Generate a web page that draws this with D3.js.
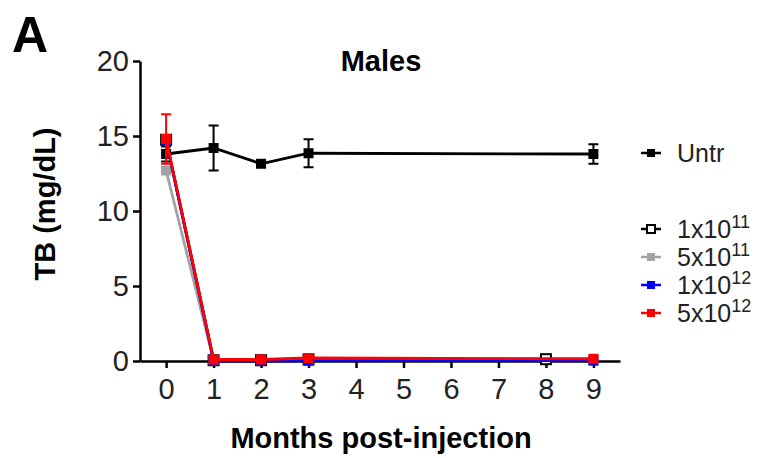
<!DOCTYPE html>
<html>
<head>
<meta charset="utf-8">
<script src="https://cdn.jsdelivr.net/npm/d3@7"></script>
<style>
  body { margin: 0; background: #fff; }
  text { font-family: "Liberation Sans", Arial, sans-serif; }
</style>
</head>
<body>
<svg id="chart" width="775" height="458"></svg>
<script>
// months on the x axis
const months = [0, 1, 2, 3, 4, 5, 6, 7, 8, 9];
const yTicks = [0, 5, 10, 15, 20];

// TB values (mg/dL) per group, with SD
const untrMonths = [0, 1, 2, 3, 9];
const untrValues = [13.8, 14.2, 13.15, 13.85, 13.8];
const untrErr = [0.5, 1.5, 0.2, 0.93, 0.65];

const d1e11Months = [0, 1, 2, 3, 8];
const d1e11Values = [14.75, 0.05, 0.05, 0.1, 0.12];

const d5e11Months = [0, 1, 2, 3, 9];
const d5e11Values = [12.7, 0.05, 0.05, 0.08, 0.08];

const d1e12Months = [0, 1, 2, 3, 9];
const d1e12Values = [14.7, 0.0, 0.0, 0.02, 0.02];

const d5e12Months = [0, 1, 2, 3, 9];
const d5e12Values = [14.8, 0.1, 0.1, 0.2, 0.15];
const d5e12Err = [1.65, 0, 0, 0, 0];

const svg = d3.select('#chart');

const x = d3.scaleLinear().domain([-0.55, 9.56]).range([140, 620]);
const y = d3.scaleLinear().domain([0, 20]).range([361, 61]);

const toPoints = (ms, vs, es) => ms.map((m, i) => ({ m, v: vs[i], e: es ? es[i] : 0 }));

const series = [
  { name: 'Untr', color: '#000', fill: '#000', pts: toPoints(untrMonths, untrValues, untrErr) },
  { name: '1x10', sup: '11', color: '#000', fill: '#fff', pts: toPoints(d1e11Months, d1e11Values) },
  { name: '5x10', sup: '11', color: '#a3a3a3', fill: '#a3a3a3', pts: toPoints(d5e11Months, d5e11Values) },
  { name: '1x10', sup: '12', color: '#0000ff', fill: '#0000ff', pts: toPoints(d1e12Months, d1e12Values) },
  { name: '5x10', sup: '12', color: '#ff0000', fill: '#ff0000', pts: toPoints(d5e12Months, d5e12Values, d5e12Err) }
];

// Axes
const xAxis = svg.append('g')
  .attr('transform', `translate(0,${y(0)})`)
  .call(d3.axisBottom(x).tickValues(months).tickSize(7).tickPadding(10).tickSizeOuter(0));
const yAxis = svg.append('g')
  .attr('transform', `translate(${x.range()[0]},0)`)
  .call(d3.axisLeft(y).tickValues(yTicks).tickSize(7).tickPadding(4).tickSizeOuter(0));

[xAxis, yAxis].forEach((g) => {
  g.select('.domain').attr('stroke', '#000').attr('stroke-width', 2.5);
  g.selectAll('.tick line').attr('stroke', '#000').attr('stroke-width', 2.5);
  g.selectAll('.tick text')
    .attr('fill', '#222')
    .style('font-size', '29px')
    .style('font-family', '"Liberation Sans", Arial, sans-serif');
});

// Lines, error bars and markers
const line = d3.line().x((d) => x(d.m)).y((d) => y(d.v));

series.forEach((s) => {
  const g = svg.append('g');
  g.append('path')
    .attr('d', line(s.pts))
    .attr('fill', 'none')
    .attr('stroke', s.color)
    .attr('stroke-width', 2.8);

  const bars = s.pts.filter((d) => d.e > 0);
  g.selectAll('.err')
    .data(bars)
    .join('path')
    .attr('d', (d) => {
      const cx = x(d.m), y1 = y(d.v + d.e), y2 = y(d.v - d.e);
      return `M${cx - 5},${y1}H${cx + 5}M${cx},${y1}V${y2}M${cx - 5},${y2}H${cx + 5}`;
    })
    .attr('fill', 'none')
    .attr('stroke', s.color)
    .attr('stroke-width', 2);

  g.selectAll('rect')
    .data(s.pts)
    .join('rect')
    .attr('x', (d) => x(d.m) - 5)
    .attr('y', (d) => y(d.v) - 5)
    .attr('width', 10)
    .attr('height', 10)
    .attr('fill', s.fill)
    .attr('stroke', s.color)
    .attr('stroke-width', s.fill === '#fff' ? 2 : 0);
});

// Legend
const legendY = [153, 229, 257, 285, 313];
series.forEach((s, i) => {
  const g = svg.append('g').attr('transform', `translate(641,${legendY[i]})`);
  g.append('line').attr('x1', 0).attr('x2', 20)
    .attr('stroke', s.color).attr('stroke-width', 2.5);
  g.append('rect').attr('x', 6).attr('y', -4).attr('width', 8).attr('height', 8)
    .attr('fill', s.fill).attr('stroke', s.color).attr('stroke-width', s.fill === '#fff' ? 2 : 0);
  const t = g.append('text').attr('x', 36).attr('y', 9)
    .attr('fill', '#222').style('font-size', '25px').text(s.name);
  if (s.sup) {
    t.append('tspan').attr('dy', -10).style('font-size', '18px').text(s.sup);
  }
});

// Titles
svg.append('text')
  .attr('x', 381).attr('y', 71)
  .attr('text-anchor', 'middle')
  .style('font-size', '29px').style('font-weight', 'bold')
  .text('Males');

svg.append('text')
  .attr('x', 381).attr('y', 448)
  .attr('text-anchor', 'middle')
  .style('font-size', '29px').style('font-weight', 'bold')
  .text('Months post-injection');

svg.append('text')
  .attr('transform', 'translate(55,204) rotate(-90)')
  .attr('text-anchor', 'middle')
  .style('font-size', '29px').style('font-weight', 'bold')
  .text('TB (mg/dL)');

svg.append('text')
  .attr('x', 12).attr('y', 52)
  .style('font-size', '50px').style('font-weight', 'bold')
  .text('A');
</script>
</body>
</html>
